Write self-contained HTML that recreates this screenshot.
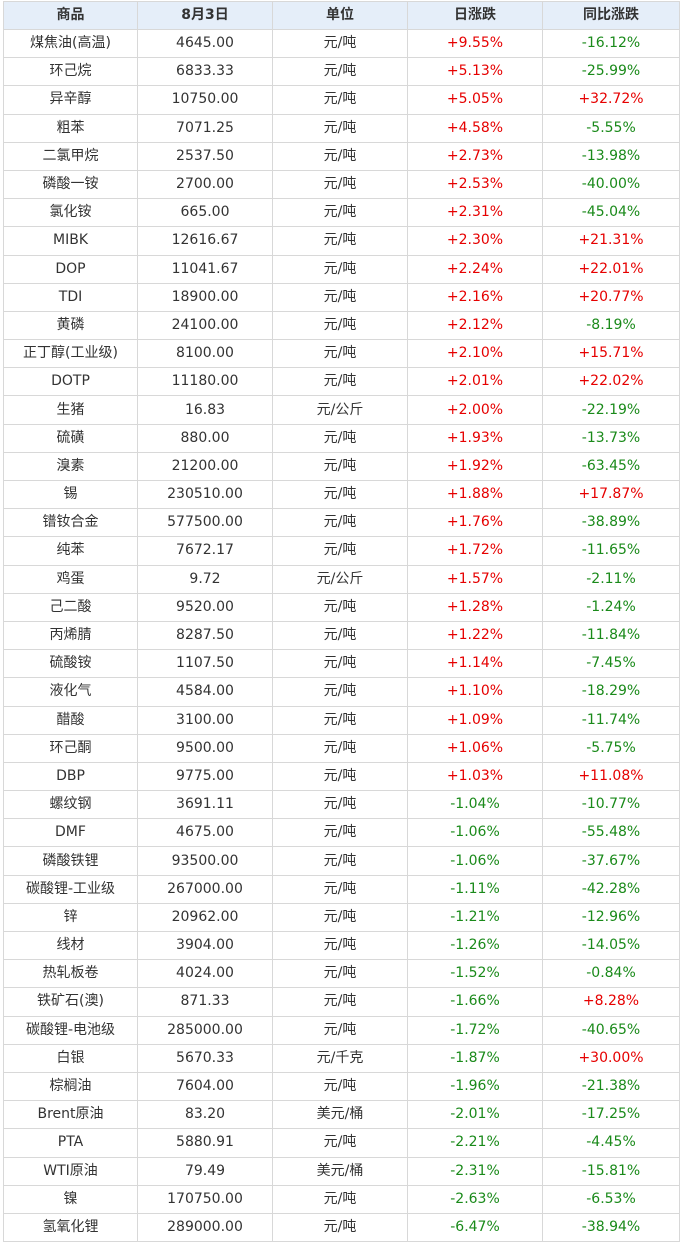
<!DOCTYPE html>
<html><head><meta charset="utf-8"><style>
body{margin:0;background:#fff;width:681px;height:1245px;overflow:hidden}
table{position:absolute;left:3px;top:1px;border-collapse:collapse;table-layout:fixed;width:676px;font-family:"DejaVu Sans","Noto Sans CJK SC",sans-serif;font-size:14px;color:#333}
td,th{border:1px solid #d8d8d8;text-align:center;padding:0;height:27.2px;line-height:27px;white-space:nowrap;overflow:hidden}
th{background:#e5eef9;font-weight:bold;height:27px}
.r{color:#e60000}.g{color:#1a8a1a}
</style></head><body>
<table>
<colgroup><col style="width:134px"><col style="width:135px"><col style="width:135px"><col style="width:135px"><col style="width:137px"></colgroup>
<tr><th>商品</th><th>8月3日</th><th>单位</th><th>日涨跌</th><th>同比涨跌</th></tr>
<tr><td>煤焦油(高温)</td><td>4645.00</td><td>元/吨</td><td class="r">+9.55%</td><td class="g">-16.12%</td></tr>
<tr><td>环己烷</td><td>6833.33</td><td>元/吨</td><td class="r">+5.13%</td><td class="g">-25.99%</td></tr>
<tr><td>异辛醇</td><td>10750.00</td><td>元/吨</td><td class="r">+5.05%</td><td class="r">+32.72%</td></tr>
<tr><td>粗苯</td><td>7071.25</td><td>元/吨</td><td class="r">+4.58%</td><td class="g">-5.55%</td></tr>
<tr><td>二氯甲烷</td><td>2537.50</td><td>元/吨</td><td class="r">+2.73%</td><td class="g">-13.98%</td></tr>
<tr><td>磷酸一铵</td><td>2700.00</td><td>元/吨</td><td class="r">+2.53%</td><td class="g">-40.00%</td></tr>
<tr><td>氯化铵</td><td>665.00</td><td>元/吨</td><td class="r">+2.31%</td><td class="g">-45.04%</td></tr>
<tr><td>MIBK</td><td>12616.67</td><td>元/吨</td><td class="r">+2.30%</td><td class="r">+21.31%</td></tr>
<tr><td>DOP</td><td>11041.67</td><td>元/吨</td><td class="r">+2.24%</td><td class="r">+22.01%</td></tr>
<tr><td>TDI</td><td>18900.00</td><td>元/吨</td><td class="r">+2.16%</td><td class="r">+20.77%</td></tr>
<tr><td>黄磷</td><td>24100.00</td><td>元/吨</td><td class="r">+2.12%</td><td class="g">-8.19%</td></tr>
<tr><td>正丁醇(工业级)</td><td>8100.00</td><td>元/吨</td><td class="r">+2.10%</td><td class="r">+15.71%</td></tr>
<tr><td>DOTP</td><td>11180.00</td><td>元/吨</td><td class="r">+2.01%</td><td class="r">+22.02%</td></tr>
<tr><td>生猪</td><td>16.83</td><td>元/公斤</td><td class="r">+2.00%</td><td class="g">-22.19%</td></tr>
<tr><td>硫磺</td><td>880.00</td><td>元/吨</td><td class="r">+1.93%</td><td class="g">-13.73%</td></tr>
<tr><td>溴素</td><td>21200.00</td><td>元/吨</td><td class="r">+1.92%</td><td class="g">-63.45%</td></tr>
<tr><td>锡</td><td>230510.00</td><td>元/吨</td><td class="r">+1.88%</td><td class="r">+17.87%</td></tr>
<tr><td>镨钕合金</td><td>577500.00</td><td>元/吨</td><td class="r">+1.76%</td><td class="g">-38.89%</td></tr>
<tr><td>纯苯</td><td>7672.17</td><td>元/吨</td><td class="r">+1.72%</td><td class="g">-11.65%</td></tr>
<tr><td>鸡蛋</td><td>9.72</td><td>元/公斤</td><td class="r">+1.57%</td><td class="g">-2.11%</td></tr>
<tr><td>己二酸</td><td>9520.00</td><td>元/吨</td><td class="r">+1.28%</td><td class="g">-1.24%</td></tr>
<tr><td>丙烯腈</td><td>8287.50</td><td>元/吨</td><td class="r">+1.22%</td><td class="g">-11.84%</td></tr>
<tr><td>硫酸铵</td><td>1107.50</td><td>元/吨</td><td class="r">+1.14%</td><td class="g">-7.45%</td></tr>
<tr><td>液化气</td><td>4584.00</td><td>元/吨</td><td class="r">+1.10%</td><td class="g">-18.29%</td></tr>
<tr><td>醋酸</td><td>3100.00</td><td>元/吨</td><td class="r">+1.09%</td><td class="g">-11.74%</td></tr>
<tr><td>环己酮</td><td>9500.00</td><td>元/吨</td><td class="r">+1.06%</td><td class="g">-5.75%</td></tr>
<tr><td>DBP</td><td>9775.00</td><td>元/吨</td><td class="r">+1.03%</td><td class="r">+11.08%</td></tr>
<tr><td>螺纹钢</td><td>3691.11</td><td>元/吨</td><td class="g">-1.04%</td><td class="g">-10.77%</td></tr>
<tr><td>DMF</td><td>4675.00</td><td>元/吨</td><td class="g">-1.06%</td><td class="g">-55.48%</td></tr>
<tr><td>磷酸铁锂</td><td>93500.00</td><td>元/吨</td><td class="g">-1.06%</td><td class="g">-37.67%</td></tr>
<tr><td>碳酸锂-工业级</td><td>267000.00</td><td>元/吨</td><td class="g">-1.11%</td><td class="g">-42.28%</td></tr>
<tr><td>锌</td><td>20962.00</td><td>元/吨</td><td class="g">-1.21%</td><td class="g">-12.96%</td></tr>
<tr><td>线材</td><td>3904.00</td><td>元/吨</td><td class="g">-1.26%</td><td class="g">-14.05%</td></tr>
<tr><td>热轧板卷</td><td>4024.00</td><td>元/吨</td><td class="g">-1.52%</td><td class="g">-0.84%</td></tr>
<tr><td>铁矿石(澳)</td><td>871.33</td><td>元/吨</td><td class="g">-1.66%</td><td class="r">+8.28%</td></tr>
<tr><td>碳酸锂-电池级</td><td>285000.00</td><td>元/吨</td><td class="g">-1.72%</td><td class="g">-40.65%</td></tr>
<tr><td>白银</td><td>5670.33</td><td>元/千克</td><td class="g">-1.87%</td><td class="r">+30.00%</td></tr>
<tr><td>棕榈油</td><td>7604.00</td><td>元/吨</td><td class="g">-1.96%</td><td class="g">-21.38%</td></tr>
<tr><td>Brent原油</td><td>83.20</td><td>美元/桶</td><td class="g">-2.01%</td><td class="g">-17.25%</td></tr>
<tr><td>PTA</td><td>5880.91</td><td>元/吨</td><td class="g">-2.21%</td><td class="g">-4.45%</td></tr>
<tr><td>WTI原油</td><td>79.49</td><td>美元/桶</td><td class="g">-2.31%</td><td class="g">-15.81%</td></tr>
<tr><td>镍</td><td>170750.00</td><td>元/吨</td><td class="g">-2.63%</td><td class="g">-6.53%</td></tr>
<tr><td>氢氧化锂</td><td>289000.00</td><td>元/吨</td><td class="g">-6.47%</td><td class="g">-38.94%</td></tr>
</table>
</body></html>
